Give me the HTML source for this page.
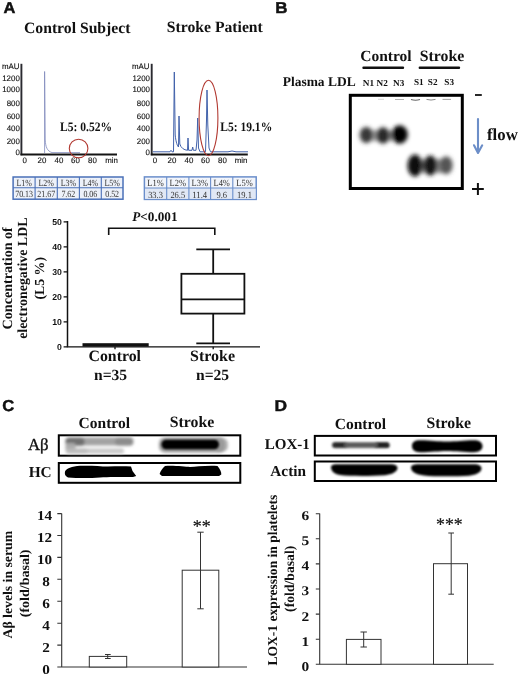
<!DOCTYPE html>
<html><head><meta charset="utf-8"><title>Figure</title>
<style>
html,body{margin:0;padding:0;background:#fff;}
svg{display:block}
text{font-family:"Liberation Serif",serif;font-weight:bold;fill:#111;text-rendering:geometricPrecision}
.sans{font-family:"Liberation Sans",sans-serif}
.ax{font-family:"Liberation Sans",sans-serif;font-weight:normal;font-size:7.9px;fill:#111;stroke:#111;stroke-width:0.12px}
.tb{font-family:"Liberation Serif",serif;font-weight:normal;font-size:9.4px;fill:#333}
</style></head><body>
<svg width="520" height="674" viewBox="0 0 520 674">
<defs>
<filter id="b1" x="-50%" y="-50%" width="200%" height="200%"><feGaussianBlur stdDeviation="1"/></filter>
<filter id="b15" x="-50%" y="-50%" width="200%" height="200%"><feGaussianBlur stdDeviation="1.5"/></filter>
<filter id="b2" x="-50%" y="-50%" width="200%" height="200%"><feGaussianBlur stdDeviation="2"/></filter>
<filter id="b25" x="-50%" y="-50%" width="200%" height="200%"><feGaussianBlur stdDeviation="2.4"/></filter>
<filter id="b08" x="-50%" y="-50%" width="200%" height="200%"><feGaussianBlur stdDeviation="0.8"/></filter>
<filter id="b05" x="-50%" y="-50%" width="200%" height="200%"><feGaussianBlur stdDeviation="0.5"/></filter>
</defs>
<rect width="520" height="674" fill="#fff"/>

<!-- ===== Panel A ===== -->
<g id="pA">
<text class="sans" transform="translate(3.4,13.2) scale(1.06,1)" font-size="15.5" stroke="#111" stroke-width="0.45">A</text>
<text x="24" y="32.5" font-size="15.7">Control Subject</text>
<text x="166.8" y="32.3" font-size="15.7">Stroke Patient</text>

<!-- chromatogram 1 -->
<g id="ch1">
<text class="ax" x="2" y="69.3">mAU</text>
<text class="ax" text-anchor="end" x="19.8" y="80.7">1200</text>
<text class="ax" text-anchor="end" x="19.8" y="91.8">1000</text>
<text class="ax" text-anchor="end" x="19.8" y="106.2">800</text>
<text class="ax" text-anchor="end" x="19.8" y="118.8">600</text>
<text class="ax" text-anchor="end" x="19.8" y="131.2">400</text>
<text class="ax" text-anchor="end" x="19.8" y="143.7">200</text>
<text class="ax" text-anchor="end" x="19.8" y="155">0</text>
<text class="ax" text-anchor="middle" x="24.8" y="162.7">0</text>
<text class="ax" text-anchor="middle" x="42" y="162.7">20</text>
<text class="ax" text-anchor="middle" x="59" y="162.7">40</text>
<text class="ax" text-anchor="middle" x="75.5" y="162.7">60</text>
<text class="ax" text-anchor="middle" x="92.5" y="162.7">80</text>
<text class="ax" text-anchor="middle" x="111.5" y="162.7">min</text>
<path d="M44.6 153V71.5L45.2 140C45.7 147 47 151 52 152.6H80" fill="none" stroke="#7f89bb" stroke-width="0.8"/>
<path d="M21.4 63.8V155.3" stroke="#2a2a30" stroke-width="1.9"/>
<path d="M20.5 154.6H117" stroke="#141414" stroke-width="2"/>
<circle cx="78.6" cy="148.5" r="9.3" fill="none" stroke="#b23a32" stroke-width="1.1"/>
<text x="60" y="131.3" font-size="12.9" textLength="52" lengthAdjust="spacingAndGlyphs">L5: 0.52%</text>
</g>

<!-- chromatogram 2 -->
<g id="ch2">
<text class="ax" x="132" y="69.3">mAU</text>
<text class="ax" text-anchor="end" x="150" y="80.7">1200</text>
<text class="ax" text-anchor="end" x="150" y="91.8">1000</text>
<text class="ax" text-anchor="end" x="150" y="106.2">800</text>
<text class="ax" text-anchor="end" x="150" y="118.8">600</text>
<text class="ax" text-anchor="end" x="150" y="131.2">400</text>
<text class="ax" text-anchor="end" x="150" y="143.7">200</text>
<text class="ax" text-anchor="end" x="150" y="155">0</text>
<text class="ax" text-anchor="middle" x="155" y="162.7">0</text>
<text class="ax" text-anchor="middle" x="172" y="162.7">20</text>
<text class="ax" text-anchor="middle" x="189" y="162.7">40</text>
<text class="ax" text-anchor="middle" x="205.5" y="162.7">60</text>
<text class="ax" text-anchor="middle" x="222.5" y="162.7">80</text>
<text class="ax" text-anchor="middle" x="241" y="162.7">min</text>
<path d="M153 151.8H170L171 150.3L172 151.8H173.5L174.3 72L175.2 135C176 143 177.5 146 178.5 147L179 116L179.8 144C181 148 184 150 187.5 150.3L188 138L188.6 150.3H192L192.7 147L193.4 150.3H196L197 140L197.7 118L198.5 148L200 151.8H205.5L206.5 120L207 90L207.8 125L209 148L210.5 151.8H228L232 151L236 151.8H248" fill="none" stroke="#4262ab" stroke-width="1"/>
<path d="M151.7 63.8V155.3" stroke="#2a2a30" stroke-width="1.9"/>
<path d="M150.8 154.6H247.8" stroke="#141414" stroke-width="2"/>
<ellipse cx="208.5" cy="118" rx="9.4" ry="37.7" fill="none" stroke="#b23a32" stroke-width="1.1"/>
<text x="220.2" y="131.2" font-size="12.9" textLength="52" lengthAdjust="spacingAndGlyphs">L5: 19.1%</text>
</g>

<!-- tables -->
<g id="tb1">
<rect x="13.1" y="177" width="109.9" height="22.2" fill="#edf1f9" stroke="#4a70b8" stroke-width="1.5"/>
<path d="M13.1 187.7H123M35.1 177V199.2M57.3 177V199.2M79.4 177V199.2M101.3 177V199.2" stroke="#4a70b8" stroke-width="1.1" fill="none"/>
<g text-anchor="middle">
<text class="tb" x="24.1" y="185.6" textLength="15.44" lengthAdjust="spacingAndGlyphs">L1%</text><text class="tb" x="46.2" y="185.6" textLength="15.44" lengthAdjust="spacingAndGlyphs">L2%</text><text class="tb" x="68.35" y="185.6" textLength="15.44" lengthAdjust="spacingAndGlyphs">L3%</text><text class="tb" x="90.35" y="185.6" textLength="15.44" lengthAdjust="spacingAndGlyphs">L4%</text><text class="tb" x="112.15" y="185.6" textLength="15.44" lengthAdjust="spacingAndGlyphs">L5%</text>
<text class="tb" x="24.1" y="197.4" textLength="17.87" lengthAdjust="spacingAndGlyphs">70.13</text><text class="tb" x="46.2" y="197.4" textLength="17.87" lengthAdjust="spacingAndGlyphs">21.67</text><text class="tb" x="68.35" y="197.4" textLength="13.9" lengthAdjust="spacingAndGlyphs">7.62</text><text class="tb" x="90.35" y="197.4" textLength="13.9" lengthAdjust="spacingAndGlyphs">0.06</text><text class="tb" x="112.15" y="197.4" textLength="13.9" lengthAdjust="spacingAndGlyphs">0.52</text>
</g>
</g>
<g id="tb2">
<rect x="144.4" y="176.9" width="111.8" height="22.5" fill="#f2f5fb" stroke="#6a8ecb" stroke-width="1.5"/>
<rect x="145" y="188" width="110.6" height="10.8" fill="#e1e8f5"/>
<path d="M144.4 188H256.2M166.7 176.9V199.4M188.9 176.9V199.4M210.6 176.9V199.4M232.8 176.9V199.4" stroke="#6a8ecb" stroke-width="1.1" fill="none"/>
<g text-anchor="middle">
<text class="tb" x="155.55" y="186.2" textLength="16.45" lengthAdjust="spacingAndGlyphs">L1%</text><text class="tb" x="177.8" y="186.2" textLength="16.45" lengthAdjust="spacingAndGlyphs">L2%</text><text class="tb" x="199.75" y="186.2" textLength="16.45" lengthAdjust="spacingAndGlyphs">L3%</text><text class="tb" x="221.7" y="186.2" textLength="16.45" lengthAdjust="spacingAndGlyphs">L4%</text><text class="tb" x="244.5" y="186.2" textLength="16.45" lengthAdjust="spacingAndGlyphs">L5%</text>
<text class="tb" x="155.55" y="197.7" textLength="14.8" lengthAdjust="spacingAndGlyphs">33.3</text><text class="tb" x="177.8" y="197.7" textLength="14.8" lengthAdjust="spacingAndGlyphs">26.5</text><text class="tb" x="199.75" y="197.7" textLength="14.8" lengthAdjust="spacingAndGlyphs">11.4</text><text class="tb" x="221.7" y="197.7" textLength="10.58" lengthAdjust="spacingAndGlyphs">9.6</text><text class="tb" x="244.5" y="197.7" textLength="14.8" lengthAdjust="spacingAndGlyphs">19.1</text>
</g>
</g>

<!-- boxplot -->
<g id="box">
<path d="M67.5 221V346.8" fill="none" stroke="#111" stroke-width="1.5"/>
<path d="M66.8 346.8H260" fill="none" stroke="#111" stroke-width="1.2"/>
<path d="M63.6 221.8H67.5M63.6 246.8H67.5M63.6 271.8H67.5M63.6 296.8H67.5M63.6 321.8H67.5M63.6 346.8H67.5M115 346.8V349.3M213.2 346.8V349.3" stroke="#111" stroke-width="1.3"/>
<g font-size="8.7" text-anchor="end">
<text class="sans" x="61.9" y="224.6">50</text><text class="sans" x="61.9" y="249.6">40</text><text class="sans" x="61.9" y="274.6">30</text><text class="sans" x="61.9" y="299.6">20</text><text class="sans" x="61.9" y="324.6">10</text><text class="sans" x="61.9" y="349.6">0</text>
</g>
<text x="132.3" y="221.3" font-size="13.2"><tspan font-style="italic">P</tspan>&lt;0.001</text>
<path d="M108.7 235V228.2H214.8V235" fill="none" stroke="#111" stroke-width="1.6"/>
<rect x="82.5" y="343.2" width="66.2" height="3.4" fill="#111"/>
<rect x="181.4" y="273.8" width="63" height="39.8" fill="#fff" stroke="#111" stroke-width="1.8"/>
<path d="M181.4 299.3H244.4M213.2 273.8V249.3M196.3 249.3H230M213.2 313.6V343.3M196.3 343.3H230" stroke="#111" stroke-width="1.8" fill="none"/>
<text x="88.5" y="360.6" font-size="15.7" textLength="52.5" lengthAdjust="spacingAndGlyphs">Control</text>
<text x="190" y="361.2" font-size="15.8" textLength="45" lengthAdjust="spacingAndGlyphs">Stroke</text>
<text x="94" y="380" font-size="15.6">n=35</text>
<text x="196" y="380" font-size="15.6">n=25</text>
<text transform="translate(12,278.3) rotate(-90)" font-size="14.1" text-anchor="middle">Concentration of</text>
<text transform="translate(27.3,278.2) rotate(-90)" font-size="13.9" text-anchor="middle">electronegative LDL</text>
<text transform="translate(43.6,278.3) rotate(-90)" font-size="13.8" text-anchor="middle">(L5 %)</text>
</g>
</g>

<!-- ===== Panel B ===== -->
<g id="pB">
<text class="sans" transform="translate(275.3,13.4) scale(1.08,1)" font-size="15.7" stroke="#111" stroke-width="0.45">B</text>
<text x="360.3" y="61" font-size="15.5">Control</text>
<text x="419.8" y="60.6" font-size="15.8">Stroke</text>
<path d="M363.5 67.8H403M419.8 67.8H459" stroke="#111" stroke-width="2.4" stroke-linecap="round"/>
<text x="282.7" y="86.2" font-size="13.5" textLength="73" lengthAdjust="spacingAndGlyphs">Plasma LDL</text>
<g font-size="9.2">
<text x="362.8" y="85.7">N1</text><text x="376.5" y="85.7">N2</text><text x="393" y="85.5">N3</text>
<text x="414" y="84.6">S1</text><text x="427.8" y="84.6">S2</text><text x="444.3" y="84.6">S3</text>
</g>
<rect x="350.3" y="95.3" width="112" height="93.2" fill="#fff" stroke="#000" stroke-width="3"/>
<g filter="url(#b2)">
<rect x="362" y="130" width="40" height="11" rx="5" fill="#999"/>
<rect x="411" y="159" width="38" height="14" rx="6" fill="#8a8a8a"/>
<ellipse cx="366.3" cy="135" rx="6.6" ry="8" fill="#383838"/>
<ellipse cx="383" cy="135.5" rx="6.8" ry="8.2" fill="#2a2a2a"/>
<ellipse cx="399.6" cy="134.5" rx="8.2" ry="9.2" fill="#000"/>
<ellipse cx="415" cy="165.5" rx="7.5" ry="11" fill="#0a0a0a"/>
<ellipse cx="430.3" cy="165.5" rx="7" ry="10" fill="#181818"/>
<ellipse cx="446.2" cy="165.2" rx="6.4" ry="9" fill="#555"/>
</g>
<g filter="url(#b05)" fill="none">
<path d="M378 99.3h6" stroke="#ccc" stroke-width="0.8"/>
<path d="M395 99.5h9" stroke="#aaa" stroke-width="0.9"/>
<path d="M411 99.5q4.5 1.5 9 0" stroke="#666" stroke-width="1.1"/>
<path d="M426.5 99.4q4.5 1.3 9 0" stroke="#888" stroke-width="1"/>
<path d="M442.5 99.4h8.5" stroke="#999" stroke-width="0.9"/>
</g>
<path d="M475 95H481.8" stroke="#111" stroke-width="1.8"/>
<path d="M472 189H483.8M477.9 183V195" stroke="#111" stroke-width="2"/>
<path d="M478 119V151.5M474 145.3L478 153L482.2 145.3" fill="none" stroke="#6c8ec8" stroke-width="2.1" stroke-linecap="round" stroke-linejoin="round"/>
<text x="487" y="139.5" font-size="16.8" textLength="30.8" lengthAdjust="spacingAndGlyphs">flow</text>
</g>

<!-- ===== Panel C ===== -->
<g id="pC">
<text class="sans" transform="translate(2.3,411.1) scale(1.05,1)" font-size="15.9" stroke="#111" stroke-width="0.45">C</text>
<text x="78.6" y="427.6" font-size="15.5">Control</text>
<text x="169.8" y="426.8" font-size="15.8">Stroke</text>
<text x="28" y="449.7" font-size="16.8" style="font-weight:normal" stroke="#111" stroke-width="0.35">Aβ</text>
<text x="28.7" y="477" font-size="15.2" textLength="23" lengthAdjust="spacingAndGlyphs">HC</text>
<rect x="58.8" y="435.3" width="181.5" height="20.4" fill="#fff" stroke="#000" stroke-width="2"/>
<rect x="58.8" y="463" width="181.5" height="19.8" fill="#fff" stroke="#000" stroke-width="2"/>
<g filter="url(#b15)">
<rect x="65.5" y="437.6" width="68" height="8" rx="3.5" fill="#a2a2a2"/>
<rect x="65.5" y="437.8" width="19" height="8" rx="3.5" fill="#707070"/>
<rect x="115" y="437.8" width="18" height="7.6" rx="3.5" fill="#8c8c8c"/>
<rect x="65.5" y="443" width="10" height="9.5" rx="2" fill="#aaa"/>
<rect x="66" y="448.4" width="58" height="5" rx="2.5" fill="#c8c8c8"/>
<rect x="66" y="448.4" width="22" height="5" rx="2.5" fill="#bcbcbc"/>
<rect x="215" y="438.5" width="13" height="13" rx="5" fill="#b5b5b5"/>
</g>
<g filter="url(#b15)">
<rect x="159" y="437.5" width="66" height="15" rx="6" fill="#9a9a9a"/>
</g>
<g filter="url(#b1)">
<rect x="161.5" y="439.7" width="57.5" height="9.6" rx="4.8" fill="#000"/>
</g>
<g filter="url(#b05)">
<path d="M65 471.5C66 468.5 72 466.5 80 465.8C90 465.3 100 466.3 108 466.5C116 466.3 124 466 131 466.6L132.5 471L136.2 476L133 477C120 477 108 476.5 100 477.5C90 478.3 78 478.3 68 477.5C65 476 64.5 474 65 471.5Z" fill="#050505"/>
<path d="M165 466C175 465.3 185 467 190 467C196 467 205 465.3 217.5 466C220 469 221.5 472 221.3 474.5L219 476H162L159.6 474C160.5 471 162.5 468 165 466Z" fill="#050505"/>
</g>
<!-- chart -->
<path d="M61.7 513.6V667" fill="none" stroke="#333" stroke-width="1.1"/>
<path d="M57.3 667H247" fill="none" stroke="#333" stroke-width="1.1"/>
<path d="M57.3 513.6H61.7M57.3 535.5H61.7M57.3 557.4H61.7M57.3 579.3H61.7M57.3 601.3H61.7M57.3 623.2H61.7M57.3 645.1H61.7" stroke="#333" stroke-width="1.1"/>
<g font-size="13.6" text-anchor="end">
<text x="52.2" y="520.1" textLength="15.2" lengthAdjust="spacingAndGlyphs">14</text><text x="52.2" y="542" textLength="15.2" lengthAdjust="spacingAndGlyphs">12</text><text x="52.2" y="563.9" textLength="15.2" lengthAdjust="spacingAndGlyphs">10</text><text x="49.8" y="585.8" textLength="7.6" lengthAdjust="spacingAndGlyphs">8</text><text x="49.8" y="607.8" textLength="7.6" lengthAdjust="spacingAndGlyphs">6</text><text x="49.8" y="629.7" textLength="7.6" lengthAdjust="spacingAndGlyphs">4</text><text x="49.8" y="651.6" textLength="7.6" lengthAdjust="spacingAndGlyphs">2</text><text x="49.8" y="673.5" textLength="7.6" lengthAdjust="spacingAndGlyphs">0</text>
</g>
<rect x="89.3" y="656.4" width="37.4" height="10.6" fill="#fff" stroke="#333" stroke-width="1"/>
<path d="M107.7 654.5V658.5M105 654.5H110.7M105 658.5H110.7" stroke="#333" stroke-width="1" fill="none"/>
<rect x="182.2" y="570.2" width="36.6" height="96.8" fill="#fff" stroke="#333" stroke-width="1"/>
<path d="M200.5 532.2V608.8M197.3 532.2H203.7M197.3 608.8H203.7" stroke="#333" stroke-width="1" fill="none"/>
<text x="201.8" y="531.9" font-size="18" text-anchor="middle" style="font-weight:normal" stroke="#111" stroke-width="0.2">**</text>
<text transform="translate(12.4,584.7) rotate(-90)" font-size="13.3" text-anchor="middle" textLength="107.6" lengthAdjust="spacingAndGlyphs">Aβ levels in serum</text>
<text transform="translate(29.2,583.4) rotate(-90)" font-size="13.3" text-anchor="middle" textLength="67.8" lengthAdjust="spacingAndGlyphs">(fold/basal)</text>
</g>

<!-- ===== Panel D ===== -->
<g id="pD">
<text class="sans" transform="translate(274.6,410.6) scale(1.1,1)" font-size="15.8" stroke="#111" stroke-width="0.45">D</text>
<text x="334.8" y="429.2" font-size="15.5">Control</text>
<text x="426.5" y="428.3" font-size="15.8">Stroke</text>
<text x="264.8" y="448.8" font-size="15">LOX-1</text>
<text x="270.3" y="476.3" font-size="15.3">Actin</text>
<rect x="314.8" y="435.9" width="181.2" height="19.6" fill="#fff" stroke="#000" stroke-width="2"/>
<rect x="314.8" y="461.5" width="181.2" height="19.5" fill="#fff" stroke="#000" stroke-width="2"/>
<g filter="url(#b1)">
<rect x="331.8" y="441.9" width="58" height="6.4" rx="3.2" fill="#7a7a7a"/>
<rect x="332.5" y="442.3" width="16" height="5.4" rx="2.7" fill="#2a2a2a"/>
<rect x="374" y="442.3" width="15.5" height="5.8" rx="2.9" fill="#222"/>
<rect x="344" y="443" width="34" height="4" rx="2" fill="#5a5a5a"/>
</g>
<g filter="url(#b08)">
<path d="M412 446C412 442 415 440.3 420 440.3C432 440.3 438 441.6 447 441.6C456 441.6 463 440.3 474 440.3C480 440.3 482.5 443 482.5 446.3C482.5 450 479 452.2 474 452.2C463 452.2 456 451 447 451C438 451 432 452.2 420 452.2C415 452.2 412 450 412 446Z" fill="#050505"/>
<path d="M331 467C331 464.7 334 464.2 338 464.2L390 464.2C395 464.2 397.5 465.5 397.5 468C397 472 392 474.5 385 475.2C370 476.2 350 476.2 340 475C334 474 331 471 331 467Z" fill="#050505"/>
<path d="M411 467.5C411 465 414 464.2 418 464.2L474 464.2C479 464.2 481.5 466 481.5 468.5C481 472.5 476 475 469 475.7C455 476.6 435 476.6 424 475.5C416 474.6 411 472 411 467.5Z" fill="#050505"/>
</g>
<!-- chart -->
<path d="M319.7 513.6V664.3" fill="none" stroke="#333" stroke-width="1.1"/>
<path d="M315.8 664.3H493.7" fill="none" stroke="#333" stroke-width="1.1"/>
<path d="M315.8 513.7H319.7M315.8 538.8H319.7M315.8 563.9H319.7M315.8 589H319.7M315.8 614.1H319.7M315.8 639.2H319.7" stroke="#333" stroke-width="1.1"/>
<g font-size="13.4" text-anchor="end">
<text x="309.2" y="520" textLength="7.7" lengthAdjust="spacingAndGlyphs">6</text><text x="309.2" y="545.2" textLength="7.7" lengthAdjust="spacingAndGlyphs">5</text><text x="309.2" y="570.2" textLength="7.7" lengthAdjust="spacingAndGlyphs">4</text><text x="309.2" y="595.4" textLength="7.7" lengthAdjust="spacingAndGlyphs">3</text><text x="309.2" y="620.6" textLength="7.7" lengthAdjust="spacingAndGlyphs">2</text><text x="309.2" y="645.8" textLength="7.7" lengthAdjust="spacingAndGlyphs">1</text><text x="309.2" y="670.8" textLength="7.7" lengthAdjust="spacingAndGlyphs">0</text>
</g>
<rect x="346.4" y="639.4" width="34.6" height="24.9" fill="#fff" stroke="#333" stroke-width="1"/>
<path d="M363.7 632V647M360.5 632H366.9M360.5 647H366.9" stroke="#333" stroke-width="1" fill="none"/>
<rect x="433.5" y="563.7" width="34" height="100.6" fill="#fff" stroke="#333" stroke-width="1"/>
<path d="M451.2 533V594.2M448.3 533H454M448.3 594.2H454" stroke="#333" stroke-width="1" fill="none"/>
<text x="449.4" y="529.7" font-size="17.8" text-anchor="middle" style="font-weight:normal" stroke="#111" stroke-width="0.2">***</text>
<text transform="translate(277.2,580.1) rotate(-90)" font-size="13.55" text-anchor="middle">LOX-1 expression in platelets</text>
<text transform="translate(293.7,578.8) rotate(-90)" font-size="13.7" text-anchor="middle">(fold/basal)</text>
</g>
</svg>
</body></html>
